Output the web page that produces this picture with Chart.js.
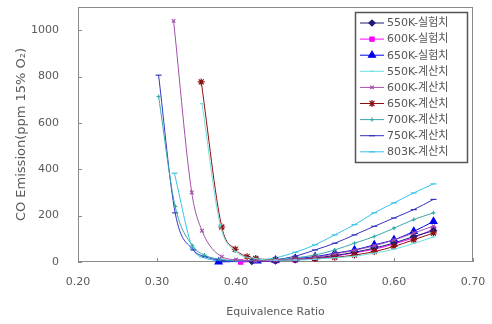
<!DOCTYPE html>
<html>
<head>
<meta charset="utf-8">
<script src="https://cdn.jsdelivr.net/npm/chart.js@4.4.1/dist/chart.umd.min.js"></script>
<style>
  body { margin: 0; background: #fff; }
  #c { display: block; }
</style>
</head>
<body>
<canvas id="c" width="492" height="324"></canvas>
<script>
// series names (legend order)
const names = ['550K-실험치', '600K-실험치', '650K-실험치', '550K-계산치', '600K-계산치',
               '650K-계산치', '700K-계산치', '750K-계산치', '803K-계산치'];

// experiments
const phiExp550 = [0.42, 0.45, 0.475, 0.50, 0.525, 0.55, 0.575, 0.60, 0.625, 0.65];
const coExp550  = [3, 5, 10, 18, 28, 42, 60, 82, 110, 135];
const phiExp600 = [0.406, 0.45, 0.475, 0.50, 0.525, 0.55, 0.575, 0.60, 0.625, 0.65];
const coExp600  = [0, 5, 9, 15, 25, 40, 55, 78, 105, 142];
const phiExp650 = [0.378, 0.427, 0.45, 0.475, 0.50, 0.525, 0.55, 0.575, 0.60, 0.625, 0.65];
const coExp650  = [0, 5, 8, 15, 23, 38, 52, 74, 96, 132, 175];

// calculations
const phiCal550 = [0.357, 0.38, 0.40, 0.425, 0.45, 0.475, 0.50, 0.525, 0.55, 0.575, 0.60, 0.625, 0.65];
const coCal550  = [683, 160, 45, 15, 8, 8, 12, 18, 25, 38, 55, 80, 108];
const phiCal600 = [0.321, 0.344, 0.357, 0.382, 0.40, 0.425, 0.45, 0.475, 0.50, 0.525, 0.55, 0.575, 0.60, 0.625, 0.65];
const coCal600  = [1040, 300, 135, 23, 10, 5, 8, 12, 20, 35, 50, 70, 95, 125, 155];
const phiCal650 = [0.356, 0.382, 0.399, 0.414, 0.425, 0.45, 0.475, 0.50, 0.525, 0.55, 0.575, 0.60, 0.625, 0.65];
const coCal650  = [777, 151, 55, 23, 15, 10, 12, 15, 20, 30, 45, 67, 96, 125];
const phiCal700 = [0.302, 0.323, 0.345, 0.36, 0.38, 0.40, 0.425, 0.45, 0.475, 0.50, 0.525, 0.55, 0.575, 0.60, 0.625, 0.65];
const coCal700  = [714, 240, 70, 30, 12, 6, 6, 10, 18, 30, 52, 81, 110, 146, 183, 212];
const phiCal750 = [0.302, 0.323, 0.346, 0.361, 0.378, 0.40, 0.425, 0.45, 0.475, 0.50, 0.525, 0.55, 0.575, 0.60, 0.625, 0.65];
const coCal750  = [806, 212, 52, 23, 9, 5, 5, 10, 25, 52, 81, 117, 154, 190, 226, 270];
const phiCal803 = [0.322, 0.345, 0.357, 0.375, 0.40, 0.425, 0.45, 0.475, 0.50, 0.525, 0.55, 0.575, 0.60, 0.625, 0.65];
const coCal803  = [383, 60, 22, 8, 5, 8, 18, 42, 74, 117, 161, 212, 255, 298, 337];

const xTicks = [0.2, 0.3, 0.4, 0.5, 0.6, 0.7];

const looks = [
  { color: '#1c1c78', style: 'rectRot', r: 3 },
  { color: '#ff00ff', style: 'rect', r: 3 },
  { color: '#0000ee', style: 'triangle', r: 4 },
  { color: '#6fdede', style: 'line', r: 2 },
  { color: '#a050a8', style: 'crossRot', r: 2.5 },
  { color: '#8b1010', style: 'star', r: 3.5 },
  { color: '#3aa8a8', style: 'cross', r: 2 },
  { color: '#3434c4', style: 'line', r: 3 },
  { color: '#38c4ea', style: 'line', r: 3 }
];

const allPhi = [phiExp550, phiExp600, phiExp650, phiCal550, phiCal600, phiCal650, phiCal700, phiCal750, phiCal803];
const allCo  = [coExp550, coExp600, coExp650, coCal550, coCal600, coCal650, coCal700, coCal750, coCal803];

// draw order: calculations under experiments
const order = [3, 4, 5, 6, 7, 8, 0, 1, 2];
const datasets = order.map(i => ({
  label: names[i],
  data: allPhi[i].map((p, k) => ({ x: p, y: allCo[i][k] })),
  showLine: true,
  borderColor: looks[i].color,
  backgroundColor: looks[i].color,
  borderWidth: 1,
  pointStyle: looks[i].style,
  pointRadius: looks[i].r,
  pointBorderWidth: 1.2,
  cubicInterpolationMode: 'monotone',
  clip: false
}));

const framePlugin = {
  id: 'frame',
  beforeDatasetsDraw(chart) {
    const { ctx, chartArea: a, scales } = chart;
    ctx.save();
    ctx.strokeStyle = '#8a8a8a';
    ctx.lineWidth = 1;
    ctx.strokeRect(a.left + 0.5, a.top + 0.5, a.width - 1, a.height - 1);
    ctx.beginPath();
    scales.x.ticks.forEach(t => {
      const px = Math.round(scales.x.getPixelForValue(t.value)) + 0.5;
      ctx.moveTo(px, a.bottom);
      ctx.lineTo(px, a.bottom - 4);
    });
    scales.y.ticks.forEach(t => {
      const py = Math.round(scales.y.getPixelForValue(t.value)) + 0.5;
      ctx.moveTo(a.left, py);
      ctx.lineTo(a.left + 4, py);
    });
    ctx.stroke();
    ctx.restore();
  },
  afterDatasetsDraw(chart) {
    // legend box, top right inside the plot
    const ctx = chart.ctx;
    const bx = 355, by = 12, bw = 112, bh = 150, row = 16.1;
    ctx.save();
    ctx.fillStyle = '#fff';
    ctx.fillRect(bx, by, bw, bh);
    ctx.strokeStyle = '#555';
    ctx.lineWidth = 1.5;
    ctx.strokeRect(bx + 0.5, by + 0.5, bw, bh);
    ctx.font = '11px "DejaVu Sans", "Noto Sans CJK KR", sans-serif';
    ctx.textBaseline = 'middle';
    names.forEach((n, i) => {
      const y = by + 11 + i * row;
      const lk = looks[i];
      ctx.strokeStyle = lk.color;
      ctx.fillStyle = lk.color;
      ctx.lineWidth = 1;
      ctx.beginPath();
      ctx.moveTo(bx + 5, y);
      ctx.lineTo(bx + 29, y);
      ctx.stroke();
      ctx.lineWidth = 1.2;
      Chart.helpers.drawPoint(ctx, { pointStyle: lk.style, radius: lk.r, rotation: 0, borderWidth: 1.2 }, bx + 17, y);
      ctx.fillStyle = '#555';
      ctx.fillText(n, bx + 32, y + 0.5, 75);
    });
    ctx.restore();
  }
};

const tickFont = { family: '"DejaVu Sans", sans-serif', size: 11 };

new Chart(document.getElementById('c'), {
  type: 'scatter',
  data: { datasets },
  options: {
    responsive: false,
    animation: false,
    layout: { padding: { top: 7, right: 19, left: 0, bottom: 0 } },
    plugins: { legend: { display: false }, tooltip: { enabled: false } },
    scales: {
      x: {
        type: 'linear',
        min: 0.2, max: 0.7,
        afterBuildTicks: s => { s.ticks = xTicks.map(v => ({ value: v })); },
        afterFit: s => { s.height = 62; s.paddingLeft = 0; s.paddingRight = 0; },
        grid: { display: false, drawTicks: false },
        border: { display: false },
        ticks: { padding: 14, color: '#5a5a5a', font: tickFont, callback: v => v.toFixed(2), maxRotation: 0 },
        title: { display: true, text: 'Equivalence Ratio', color: '#5a5a5a', font: tickFont, padding: { top: 0, bottom: 5 } }
      },
      y: {
        min: 0, max: 1100,
        afterFit: s => { s.width = 78; s.paddingTop = 0; s.paddingBottom = 0; },
        grid: { display: false, drawTicks: false },
        border: { display: false },
        ticks: { stepSize: 200, includeBounds: false, padding: 19, color: '#5a5a5a', font: tickFont, callback: v => String(v) },
        title: { display: true, text: 'CO Emission(ppm 15% O₂)', color: '#5a5a5a', font: { family: '"DejaVu Sans", sans-serif', size: 13 }, padding: { top: 14, bottom: 0 } }
      }
    }
  },
  plugins: [framePlugin]
});
</script>
</body>
</html>
